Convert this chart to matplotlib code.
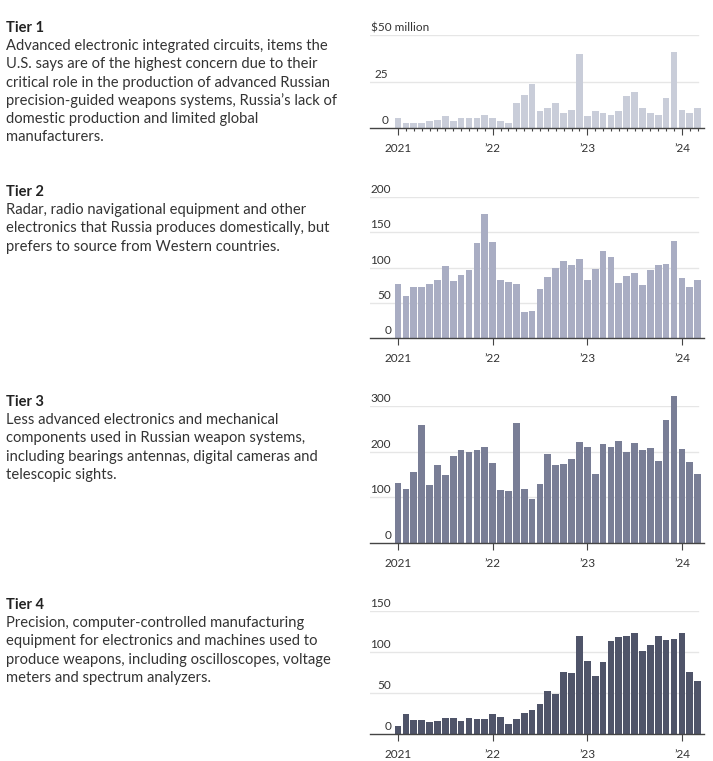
import matplotlib.pyplot as plt
import numpy as np

plt.rcParams['font.family'] = ['Lato', 'DejaVu Sans']

# monthly values, Jan 2021 - Mar 2024
tier1 = [5.4, 2.7, 2.7, 2.7, 3.6, 4.5, 6.2, 3.6, 5.4, 5.4, 5.4, 7.1,
         5.4, 3.6, 2.7, 13.4, 17.9, 23.8, 8.9, 10.7, 13.4, 8.0, 9.8, 39.8,
         6.2, 8.9, 8.0, 7.1, 8.9, 17.3, 19.1, 10.7, 8.0, 7.1, 16.3, 40.7,
         9.8, 8.0, 10.7]
tier2 = [77, 60, 72, 72, 76, 82, 102, 81, 89, 96, 135, 176,
         136, 82, 79, 76, 37, 38, 69, 86, 100, 109, 103, 112,
         82, 98, 123, 115, 78, 88, 92, 75, 97, 103, 105, 138,
         85, 72, 82]
tier3 = [131, 118, 155, 258, 126, 170, 150, 190, 204, 199, 204, 210,
         175, 117, 113, 262, 118, 96, 130, 194, 171, 172, 184, 221,
         211, 152, 216, 210, 223, 200, 218, 203, 208, 179, 269, 322,
         205, 177, 152]
tier4 = [10, 24, 17, 17, 15, 16, 19, 19, 16, 19, 18, 18,
         25, 21, 12, 18, 26, 29, 37, 52, 49, 76, 75, 120,
         89, 71, 88, 113, 118, 120, 123, 101, 109, 120, 115, 116,
         123, 76, 65]

year_ticks = [0, 12, 24, 36]
year_labels = ['2021', '\u201922', '\u201923', '\u201924']

titles = ['Tier 1', 'Tier 2', 'Tier 3', 'Tier 4']
descriptions = [
    ['Advanced electronic integrated circuits, items the',
     'U.S. says are of the highest concern due to their',
     'critical role in the production of advanced Russian',
     'precision-guided weapons systems, Russia\u2019s lack of',
     'domestic production and limited global',
     'manufacturers.'],
    ['Radar, radio navigational equipment and other',
     'electronics that Russia produces domestically, but',
     'prefers to source from Western countries.'],
    ['Less advanced electronics and mechanical',
     'components used in Russian weapon systems,',
     'including bearings antennas, digital cameras and',
     'telescopic sights.'],
    ['Precision, computer-controlled manufacturing',
     'equipment for electronics and machines used to',
     'produce weapons, including oscilloscopes, voltage',
     'meters and spectrum analyzers.'],
]
yticks = [[0, 25, 50], [0, 50, 100, 150, 200], [0, 100, 200, 300], [0, 50, 100, 150]]
ytick_labels = [['0', '25', '$50 million'],
                ['0', '50', '100', '150', '200'],
                ['0', '100', '200', '300'],
                ['0', '50', '100', '150']]
colors = ['#c9cdd9', '#a9adc3', '#797e96', '#4f5469']
series = [tier1, tier2, tier3, tier4]

W, H = 713, 761
fig = plt.figure(figsize=(W / 100, H / 100), dpi=100)

# pixel layout: heading y, axes top (top gridline) and baseline
head_y = [28, 192, 402, 605]
ax_top = [35, 197, 406, 611]
ax_bot = [128, 338, 543, 734]
ax_left, ax_right = 370, 704
line_h = 18.2

for i in range(4):
    fig.text(6 / W, 1 - head_y[i] / H, titles[i], fontsize=10.5, fontweight='bold',
             color='#222222', va='center', ha='left')
    for j, line in enumerate(descriptions[i]):
        fig.text(6 / W, 1 - (head_y[i] + line_h * (j + 1)) / H, line, fontsize=10.6,
                 color='#333333', va='center', ha='left')

    ax = fig.add_axes([ax_left / W, 1 - ax_bot[i] / H,
                       (ax_right - ax_left) / W, (ax_bot[i] - ax_top[i]) / H])
    x = np.arange(len(series[i]))
    ax.set_xlim(-3.55, 38.8)
    ax.set_ylim(0, yticks[i][-1])
    for v in yticks[i][1:]:
        ax.axhline(v, xmin=0, xmax=0.982, color='#e6e6e6', lw=1, zorder=0)
    ax.bar(x, series[i], width=0.85, color=colors[i], zorder=2, clip_on=False)

    for v, lab in zip(yticks[i], ytick_labels[i]):
        if lab.startswith('$'):
            ax.annotate(lab, xy=(0, v), xycoords=('axes fraction', 'data'),
                        xytext=(1, 2), textcoords='offset pixels',
                        ha='left', va='bottom', fontsize=8.5, color='#333333')
        else:
            ax.annotate(lab, xy=(0.063 if i else 0.055, v), xycoords=('axes fraction', 'data'),
                        xytext=(0, 2), textcoords='offset pixels',
                        ha='right', va='bottom', fontsize=8.5, color='#333333')

    for s in ['top', 'right', 'left']:
        ax.spines[s].set_visible(False)
    ax.spines['bottom'].set_color('#444444')
    ax.spines['bottom'].set_linewidth(1)
    ax.set_yticks([])
    ax.set_xticks(year_ticks)
    ax.set_xticklabels(year_labels)
    ax.tick_params(axis='x', length=5, width=0.8, color='#444444', labelsize=8.5,
                   labelcolor='#333333', pad=6)
    if i == 0:
        ax.set_xticks(x, minor=True)
        ax.tick_params(axis='x', which='minor', length=2.5, width=0.8, color='#444444')

fig.savefig('out.png', dpi=100)
